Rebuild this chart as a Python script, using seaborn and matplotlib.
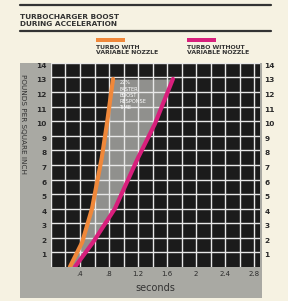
import matplotlib
matplotlib.use("Agg")
import matplotlib.pyplot as plt
import seaborn as sns
import pandas as pd
import numpy as np

# datos
boost_psi = [0, 1.7, 4, 7.5, 9.8, 12.9]
secs_with_nozzle = [0.26, 0.43, 0.565, 0.70, 0.77, 0.855]
secs_without_nozzle = [0.33, 0.58, 0.88, 1.20, 1.43, 1.68]
x_ticks = [0.4, 0.8, 1.2, 1.6, 2.0, 2.4, 2.8]
x_labels = [".4", ".8", "1.2", "1.6", "2", "2.4", "2.8"]
y_ticks = list(range(1, 15))
series_names = ["TURBO WITH\nVARIABLE NOZZLE", "TURBO WITHOUT\nVARIABLE NOZZLE"]
colors = ["#f0883a", "#d81f7c"]

df = pd.concat([
    pd.DataFrame({"seconds": secs_with_nozzle, "psi": boost_psi, "turbo": series_names[0]}),
    pd.DataFrame({"seconds": secs_without_nozzle, "psi": boost_psi, "turbo": series_names[1]}),
])

sns.set_style("white")
plt.rcParams["font.family"] = ["Liberation Sans Narrow", "DejaVu Sans"]

cream = "#f6f2e2"
panel = "#a9a9a3"
fig = plt.figure(figsize=(2.88, 3.01), dpi=100, facecolor=cream)

# panel gris detras (un axes vacio)
bg = fig.add_axes([0.069, 0.01, 0.841, 0.781], zorder=-1)
bg.set_facecolor(panel)
bg.set_xticks([])
bg.set_yticks([])
for s in bg.spines.values():
    s.set_visible(False)

# reglas del titulo
fig.add_artist(plt.Line2D([0.07, 0.94], [0.985, 0.985], color="#333333", lw=1.6))
fig.add_artist(plt.Line2D([0.07, 0.94], [0.897, 0.897], color="#333333", lw=1.6))
fig.text(0.07, 0.955, "TURBOCHARGER BOOST\nDURING ACCELERATION", fontsize=5.3, fontweight="bold",
         color="#333333", va="top", ha="left", linespacing=1.35)

ax = fig.add_axes([0.177, 0.113, 0.726, 0.678], zorder=1)
ax.set_facecolor("#1b1b1b")

ax.fill_betweenx(boost_psi, secs_with_nozzle, secs_without_nozzle, color="#b9b9b4", alpha=0.75, zorder=1, lw=0)

ax.set_xlim(0, 2.88)
ax.set_ylim(0, 14)
ax.set_xticks(np.arange(0, 2.9, 0.2), minor=True)
ax.set_xticks(x_ticks)
ax.set_xticklabels(x_labels, fontsize=5, color="#2a2a2a")
ax.set_yticks(y_ticks)
ax.set_yticklabels([str(v) for v in y_ticks], fontsize=5.3, color="#2a2a2a", va="top", fontweight="bold")
ax.grid(True, which="both", axis="x", color="#e8e8e8", lw=1.0, zorder=2)
ax.grid(True, which="major", axis="y", color="#e8e8e8", lw=1.0, zorder=2)
ax.set_axisbelow(False)
ax.tick_params(axis="both", which="both", length=0, pad=3)
ax.tick_params(axis="y", labelright=True)
for s in ax.spines.values():
    s.set_visible(False)

sns.lineplot(data=df, x="seconds", y="psi", hue="turbo", palette=colors, lw=3,
             ax=ax, legend=False, zorder=4, sort=False)

ax.text(0.94, 12.8, "22%\nFASTER\nBOOST\nRESPONSE\nTIME", fontsize=3.6, color="white",
        va="top", ha="left", zorder=5, linespacing=1.3)

ax.set_xlabel("seconds", fontsize=7, color="#333333", labelpad=4)
ax.set_ylabel("POUNDS PER SQUARE INCH", fontsize=5.2, color="#333333", rotation=-90, labelpad=12, y=0.7)

# leyenda manual arriba
for xi, name, c in zip([0.333, 0.65], series_names, colors):
    fig.patches.append(plt.Rectangle((xi, 0.862), 0.1, 0.012, transform=fig.transFigure,
                                     facecolor=c, edgecolor="none"))
    fig.text(xi, 0.852, name, fontsize=4.4, fontweight="bold", color="#333333",
             va="top", ha="left", linespacing=1.2)

plt.savefig("out.png", dpi=100, facecolor=cream)
